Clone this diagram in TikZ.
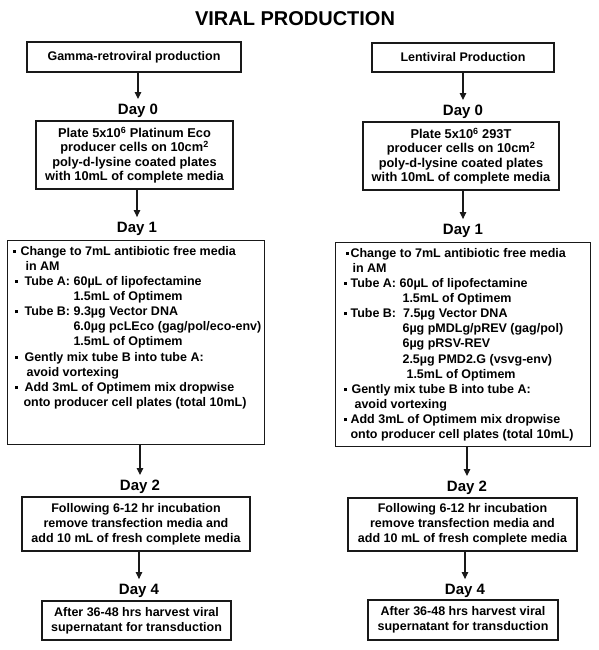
\documentclass[tikz,border=0pt]{standalone}
\usepackage{fontspec}
\setmainfont{Liberation Sans}
\usetikzlibrary{arrows.meta}
\newcommand\bul{\raisebox{2.4pt}{\rule{3pt}{3pt}}}
\newcommand\putat[2]{\makebox[0pt][l]{\hspace*{#1pt}#2}}
\newcommand\firstline{\rule{0pt}{14.5pt}}
\begin{document}
\begin{tikzpicture}[x=1pt,y=-1pt,
  boxline/.style={draw=black!90,line width=1.1pt},
  hdrbox/.style={boxline,inner sep=0pt,font=\bfseries\fontsize{12.5}{14}\selectfont},
  stepbox/.style={boxline,inner sep=0pt,align=center,font=\bfseries\fontsize{12.5}{15.2}\selectfont},
  platebox/.style={boxline,inner sep=0pt,align=center,font=\bfseries\fontsize{12.8}{14.3}\selectfont},
  listbox/.style={boxline,inner sep=0pt,anchor=north west,font=\bfseries\fontsize{12.5}{15.15}\selectfont},
  daylab/.style={inner sep=0pt,font=\bfseries\fontsize{15}{18}\selectfont},
  arr/.style={line width=1.1pt,draw=black!90,-{Triangle[length=7pt,width=6.5pt]},shorten >=5pt}]
\useasboundingbox[fill=white] (0,0) rectangle (598,650);

\node[inner sep=0pt,font=\bfseries\fontsize{20}{24}\selectfont] (title) at (295,19) {VIRAL PRODUCTION};

% left column
\node[hdrbox,minimum width=214pt,minimum height=30pt] (hL) at (134,57) {Gamma-retroviral production};
\node[daylab] (l0L) at (138,111) {Day 0};
\node[platebox,minimum width=197pt,minimum height=68pt] (b0L) at (134.5,155)
  {Plate 5x10\textsuperscript{6} Platinum Eco\\producer cells on 10cm\textsuperscript{2}\\poly-d-lysine coated plates\\with 10mL of complete media};
\node[daylab] (l1L) at (137,229) {Day 1};
\node[listbox] (b1L) at (7,240) {\parbox[t][204pt][t]{257pt}{%
\putat{5}{\bul}\putat{13}{\firstline Change to 7mL antibiotic free media}\\
\putat{18}{in AM}\\
\putat{7}{\bul}\putat{17}{Tube A: 60µL of lipofectamine}\\
\putat{66}{1.5mL of Optimem}\\
\putat{7}{\bul}\putat{17}{Tube B: 9.3µg Vector DNA}\\
\putat{66}{6.0µg pcLEco (gag/pol/eco-env)}\\
\putat{66}{1.5mL of Optimem}\\
\putat{7}{\bul}\putat{17}{Gently mix tube B into tube A:}\\
\putat{19}{avoid vortexing}\\
\putat{7}{\bul}\putat{17}{Add 3mL of Optimem mix dropwise}\\
\putat{16}{onto producer cell plates (total 10mL)}}};
\node[daylab] (l2L) at (140,487) {Day 2};
\node[stepbox,minimum width=228pt,minimum height=54pt] (b2L) at (136,524)
  {Following 6-12 hr incubation\\remove transfection media and\\add 10 mL of fresh complete media};
\node[daylab] (l4L) at (139,591) {Day 4};
\node[stepbox,minimum width=189pt,minimum height=39pt] (b4L) at (136.5,620.5)
  {After 36-48 hrs harvest viral\\supernatant for transduction};

% right column
\node[hdrbox,minimum width=182pt,minimum height=29pt] (hR) at (463,57.5) {Lentiviral Production};
\node[daylab] (l0R) at (463,112) {Day 0};
\node[platebox,minimum width=196pt,minimum height=68pt] (b0R) at (461,156)
  {Plate 5x10\textsuperscript{6} 293T\\producer cells on 10cm\textsuperscript{2}\\poly-d-lysine coated plates\\with 10mL of complete media};
\node[daylab] (l1R) at (463,231) {Day 1};
\node[listbox] (b1R) at (335,242) {\parbox[t][204pt][t]{255pt}{%
\putat{10.5}{\bul}\putat{15}{\firstline Change to 7mL antibiotic free media}\\
\putat{17}{in AM}\\
\putat{8.5}{\bul}\putat{15}{Tube A: 60µL of lipofectamine}\\
\putat{67}{1.5mL of Optimem}\\
\putat{8.5}{\bul}\putat{15}{Tube B:\ \ 7.5µg Vector DNA}\\
\putat{67}{6µg pMDLg/pREV (gag/pol)}\\
\putat{67}{6µg pRSV-REV}\\
\putat{67}{2.5µg PMD2.G (vsvg-env)}\\
\putat{71}{1.5mL of Optimem}\\
\putat{8.5}{\bul}\putat{16}{Gently mix tube B into tube A:}\\
\putat{19}{avoid vortexing}\\
\putat{8.5}{\bul}\putat{15}{Add 3mL of Optimem mix dropwise}\\
\putat{15}{onto producer cell plates (total 10mL)}}};
\node[daylab] (l2R) at (467,488) {Day 2};
\node[stepbox,minimum width=229pt,minimum height=53pt] (b2R) at (462.5,524.5)
  {Following 6-12 hr incubation\\remove transfection media and\\add 10 mL of fresh complete media};
\node[daylab] (l4R) at (465,591) {Day 4};
\node[stepbox,minimum width=190pt,minimum height=40pt] (b4R) at (463,620)
  {After 36-48 hrs harvest viral\\supernatant for transduction};

% connectors
\draw[arr] (hL.south -| l0L) -- (l0L.north);
\draw[arr] (b0L.south -| l1L) -- (l1L.north);
\draw[arr] (b1L.south -| l2L) -- (l2L.north);
\draw[arr] (b2L.south -| l4L) -- (l4L.north);
\draw[arr] (hR.south -| l0R) -- (l0R.north);
\draw[arr] (b0R.south -| l1R) -- (l1R.north);
\draw[arr] (b1R.south -| l2R) -- (l2R.north);
\draw[arr] (b2R.south -| l4R) -- (l4R.north);
\end{tikzpicture}
\end{document}
